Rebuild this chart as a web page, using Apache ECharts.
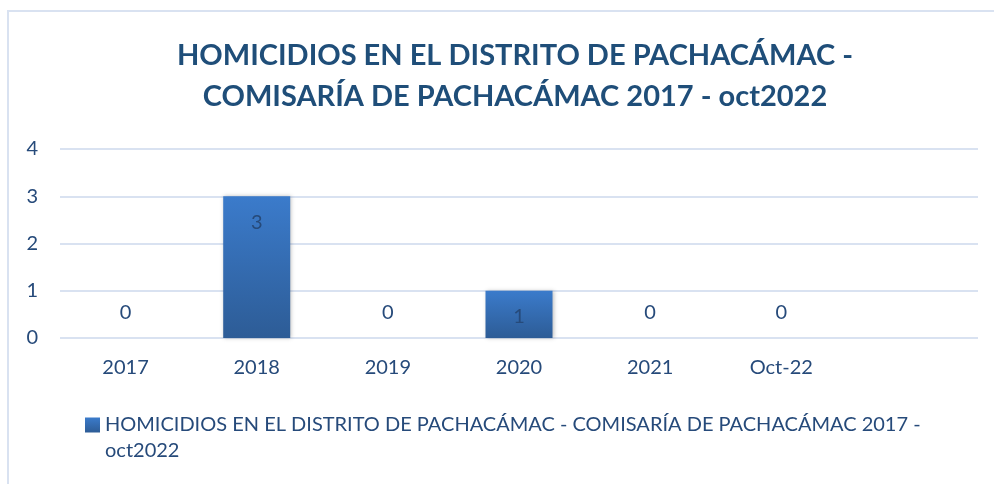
<!DOCTYPE html>
<html>
<head>
<meta charset="utf-8">
<title>Homicidios Pachacámac</title>
<script src="https://cdn.jsdelivr.net/npm/echarts@6/dist/echarts.min.js"></script>
<style>
  html, body { margin: 0; padding: 0; background: #fff; }
  #chart { width: 994px; height: 484px; }
</style>
</head>
<body>
<div id="chart"></div>
<script>
// data
var categories = ['2017', '2018', '2019', '2020', '2021', 'Oct-22', ''];
var homicidios = [0, 3, 0, 1, 0, 0, null];
var yTicks = [0, 1, 2, 3, 4];

var serieName = 'HOMICIDIOS EN EL DISTRITO DE PACHACÁMAC - COMISARÍA DE PACHACÁMAC 2017 - oct2022';
var titleText = 'HOMICIDIOS EN EL DISTRITO DE PACHACÁMAC -\nCOMISARÍA DE PACHACÁMAC 2017 - oct2022';
// excel wraps the legend entry here
var legendLine1 = 'HOMICIDIOS EN EL DISTRITO DE PACHACÁMAC - COMISARÍA DE PACHACÁMAC 2017 -';
var legendLine2 = 'oct2022';

var textColor = '#264a7a';
var fontName = 'Lato, "Open Sans", sans-serif';

var chart = echarts.init(document.getElementById('chart'));

// zero bars get their label above the baseline, like excel does
var barData = homicidios.map(function (v) {
    if (v === 0) {
        return { value: v, label: { position: 'top', distance: 15 } };
    }
    return v;
});

chart.setOption({
    animation: false,
    backgroundColor: '#fff',
    graphic: [{
        type: 'polyline',
        shape: { points: [[8, 484], [8, 11], [994, 11]] },
        style: { stroke: '#d9e2f1', lineWidth: 2, fill: null }
    }, {
        type: 'text',
        left: 105,
        top: 441,
        style: {
            text: legendLine2,
            fill: textColor,
            font: '20px ' + fontName
        }
    }],
    title: {
        text: titleText,
        left: 510,
        top: 30,
        textAlign: 'center',
        textStyle: {
            color: '#1f4e79',
            fontFamily: fontName,
            fontWeight: 'bold',
            fontSize: 29,
            lineHeight: 41
        }
    },
    grid: { left: 60, right: 16, top: 149, bottom: 146, containLabel: false },
    legend: {
        left: 80,
        top: 410,
        itemWidth: 15,
        itemHeight: 15,
        itemGap: 6,
        icon: 'rect',
        data: [serieName],
        formatter: function () {
            return legendLine1;
        },
        textStyle: {
            color: textColor,
            fontFamily: fontName,
            fontSize: 20
        }
    },
    xAxis: {
        type: 'category',
        data: categories,
        axisLine: { show: false },
        axisTick: { show: false },
        axisLabel: { color: textColor, fontFamily: fontName, fontSize: 20, margin: 20 }
    },
    yAxis: {
        type: 'value',
        min: yTicks[0],
        max: yTicks[yTicks.length - 1],
        interval: 1,
        axisLine: { show: false },
        axisTick: { show: false },
        axisLabel: { color: textColor, fontFamily: fontName, fontSize: 20, margin: 22 },
        splitLine: { lineStyle: { color: '#d9e2f1', width: 2 } }
    },
    series: [{
        name: serieName,
        type: 'bar',
        data: barData,
        barWidth: 67,
        itemStyle: {
            color: new echarts.graphic.LinearGradient(0, 0, 0, 1, [
                { offset: 0, color: '#3b7bcb' },
                { offset: 1, color: '#2d5c96' }
            ]),
            shadowColor: 'rgba(0,0,0,0.25)',
            shadowBlur: 4,
            shadowOffsetX: 1
        },
        label: {
            show: true,
            position: 'insideTop',
            distance: 16,
            color: textColor,
            fontFamily: fontName,
            fontSize: 20
        }
    }]
});
</script>
</body>
</html>
